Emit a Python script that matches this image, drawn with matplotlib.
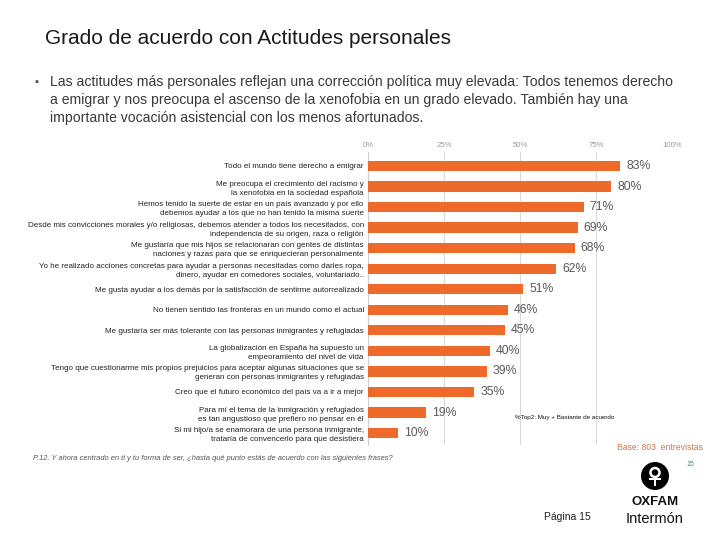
import numpy as np
import matplotlib.pyplot as plt
from matplotlib.patches import Circle, Rectangle

plt.rcParams['font.family'] = ['Liberation Sans', 'DejaVu Sans']

# Actitudes personales (% Top2: Muy + Bastante de acuerdo)
labels = [
    "Todo el mundo tiene derecho a emigrar",
    "Me preocupa el crecimiento del racismo y\nla xenofobia en la sociedad española",
    "Hemos tenido la suerte de estar en un país avanzado y por ello\ndebemos ayudar a los que no han tenido la misma suerte",
    "Desde mis convicciones morales y/o religiosas, debemos atender a todos los necesitados, con\nindependencia de su origen, raza o religión",
    "Me gustaría que mis hijos se relacionaran con gentes de distintas\nnaciones y razas para que se enriquecieran personalmente",
    "Yo he realizado acciones concretas para ayudar a personas necesitadas como darles ropa,\ndinero, ayudar en comedores sociales, voluntariado..",
    "Me gusta ayudar a los demás por la satisfacción de sentirme autorrealizado",
    "No tienen sentido las fronteras en un mundo como el actual",
    "Me gustaría ser más tolerante con las personas inmigrantes y refugiadas",
    "La globalización en España ha supuesto un\nempeoramiento del nivel de vida",
    "Tengo que cuestionarme mis propios prejuicios para aceptar algunas situaciones que se\ngeneran con personas inmigrantes y refugiadas",
    "Creo que el futuro económico del país va a ir a mejor",
    "Para mí el tema de la inmigración y refugiados\nes tan angustioso que prefiero no pensar en él",
    "Si mi hijo/a se enamorara de una persona inmigrante,\ntrataría de convencerlo para que desistiera",
]
values = [83, 80, 71, 69, 68, 62, 51, 46, 45, 40, 39, 35, 19, 10]
ticks = [0, 25, 50, 75, 100]
tick_labels = ["0%", "25%", "50%", "75%", "100%"]

bullet_lines = [
    "Las actitudes más personales reflejan una corrección política muy elevada: Todos tenemos derecho",
    "a emigrar y nos preocupa el ascenso de la xenofobia en un grado elevado. También hay una",
    "importante vocación asistencial con los menos afortunados.",
]

W, H = 720, 540
fig = plt.figure(figsize=(7.2, 5.4), dpi=100)
fig.patch.set_facecolor("white")


def fx(px):
    return px / W


def fy(py):
    return 1 - py / H


ax = fig.add_axes([fx(368), fy(445), fx(672) - fx(368), fy(152) - fy(445)])
y = np.arange(len(values))
ax.barh(y, values, height=0.5, color="#EE6A2B", zorder=3)
ax.set_xlim(0, 100)
ax.set_ylim(len(values) - 1 + 0.58, -0.68)

ax.set_xticks(ticks)
ax.set_xticklabels(tick_labels, fontsize=5.6, color="#9a9a9a")
ax.xaxis.tick_top()
ax.tick_params(axis="x", length=0, pad=2)
ax.grid(axis="x", color="#d9d9d9", linewidth=0.8, zorder=0)

ax.set_yticks(y)
ax.set_yticklabels(labels, fontsize=5.75, color="#222222", linespacing=1.4)
ax.tick_params(axis="y", length=0, pad=3)

for s in ["top", "right", "bottom"]:
    ax.spines[s].set_visible(False)
ax.spines["left"].set_color("#d0d0d0")
ax.spines["left"].set_linewidth(0.8)

for yi, v in zip(y, values):
    ax.text(v + 2, yi, f"{v}%", va="center", ha="left", fontsize=8.8, color="#5a5a5a")

# Titles and texts
fig.text(fx(45), fy(38), "Grado de acuerdo con Actitudes personales", fontsize=15,
         color="#1a1a1a", va="center", ha="left")
fig.text(fx(34), fy(82), "▪", fontsize=8, color="#555555", va="center", ha="left")
for i, line in enumerate(bullet_lines):
    fig.text(fx(50), fy(82 + 18 * i), line, fontsize=10.05, color="#3a3a3a",
             va="center", ha="left")

fig.text(fx(515), fy(418), "%Top2: Muy + Bastante de acuerdo", fontsize=4.5,
         color="#111111", va="center", ha="left")
fig.text(fx(703), fy(447), "Base: 803  entrevistas", fontsize=6.2,
         color="#C8784A", va="center", ha="right")
fig.text(fx(33), fy(458),
         "P.12. Y ahora centrado en ti y tu forma de ser, ¿hasta qué punto estás de acuerdo con las siguientes frases?",
         fontsize=5.4, style="italic", color="#555555", va="center", ha="left")
fig.text(fx(690), fy(465), "15", fontsize=5, color="#2e8b57", va="center", ha="center")
fig.text(fx(567), fy(517), "Página 15", fontsize=7.5, color="#222222", va="center", ha="center")

# Oxfam logo (drawn in inches so the circle stays round)
tr = fig.dpi_scale_trans
cx, cy = 6.55, (H - 476) / 100
fig.patches.append(Circle((cx, cy), 0.14, transform=tr, facecolor="black", edgecolor="none"))
fig.patches.append(Circle((cx, cy + 0.035), 0.045, transform=tr,
                          facecolor="none", edgecolor="white", linewidth=1.8))
fig.patches.append(Rectangle((cx - 0.009, cy - 0.095), 0.018, 0.09, transform=tr,
                             facecolor="white", edgecolor="none"))
fig.patches.append(Rectangle((cx - 0.06, cy - 0.035), 0.12, 0.018, transform=tr,
                             facecolor="white", edgecolor="none"))
fig.text(fx(655), fy(502), "OXFAM", fontsize=9.5, fontweight="bold", color="#111111",
         va="center", ha="center")
fig.text(fx(655), fy(519), "Intermón", fontsize=10.5, color="#111111", va="center", ha="center")

fig.savefig("out.png", dpi=100, facecolor="white")
